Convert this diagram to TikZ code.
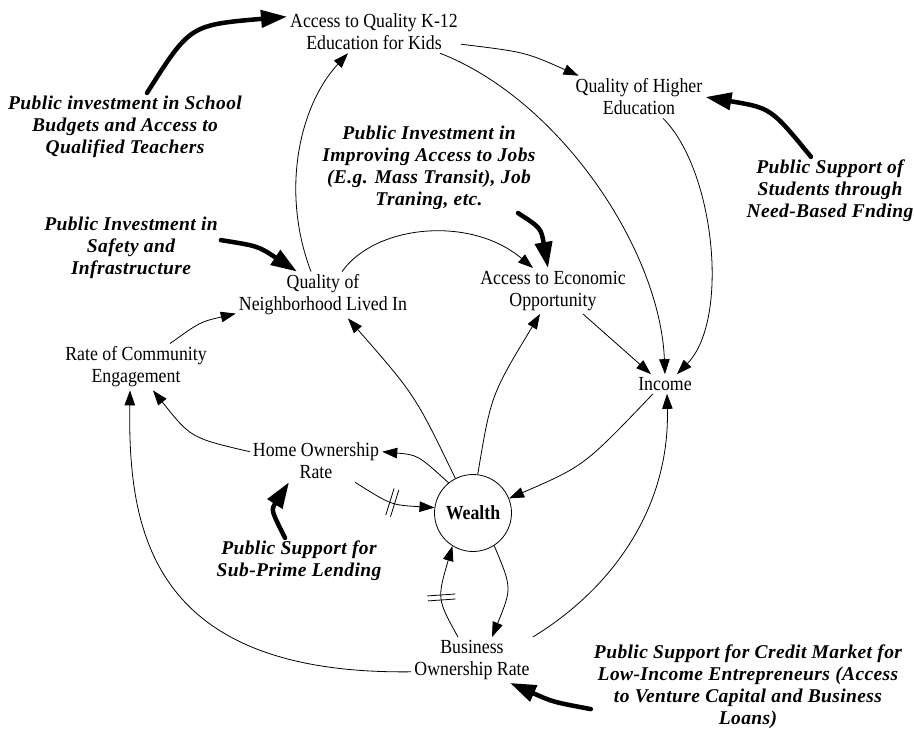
\documentclass[tikz,border=0pt]{standalone}
\usepackage{fontspec}
\setmainfont{Liberation Serif}
\newfontfamily\varfont[FakeStretch=0.89]{Liberation Serif}
\usetikzlibrary{arrows.meta,decorations.markings}

\tikzset{
  var/.style={align=center, inner sep=3pt, font=\varfont\fontsize{20}{22}\selectfont},
  policy/.style={align=center, inner sep=3pt,
    font=\fontsize{19.5}{22}\selectfont\bfseries\itshape\addfontfeature{LetterSpace=2}},
  stock/.style={circle, draw, line width=0.8pt, minimum size=77pt, inner sep=0pt,
    font=\varfont\fontsize{20}{22}\selectfont\bfseries},
  link/.style={line width=0.8pt, -{Triangle[length=15pt,width=10.5pt]}},
  push/.style={line width=4.5pt, line cap=round, -{Triangle[length=26pt,width=17pt]}},
  delay/.style={postaction={decorate}, decoration={markings,
    mark=at position #1 with {\draw[-,line width=0.8pt]
      (-2.5pt,-14pt) -- (-2.5pt,14pt) (2.5pt,-14pt) -- (2.5pt,14pt);}}},
}

\begin{document}
\begin{tikzpicture}[x=1pt,y=-1pt]
\useasboundingbox (0,0) rectangle (914,730);

% variables of the causal loop diagram
\node[var] (k12) at (374,32) {Access to Quality K-12\\Education for Kids};
\node[var] (qhe) at (639,97) {Quality of Higher\\Education};
\node[var] (aeo) at (553,291) {Access to Economic\\Opportunity};
\node[var] (qnl) at (323,295) {Quality of\\Neighborhood Lived In};
\node[var] (rce) at (136,367) {Rate of Community\\Engagement};
\node[var] (inc) at (665,384) {Income};
\node[var] (hor) at (316,461) {Home Ownership\\Rate};
\node[var] (bor) at (472,660) {Business\\Ownership Rate};
\node[stock] (w) at (473,513) {Wealth};

% policy levers
\node[policy] (psb) at (125,127) {Public investment in School\\Budgets and Access to\\Qualified Teachers};
\node[policy] (psi) at (131,248) {Public Investment in\\Safety and\\Infrastructure};
\node[policy] (pij) at (429,168) {Public Investment in\\Improving Access to Jobs\\(E.g. Mass Transit), Job\\Traning, etc.};
\node[policy] (pss) at (830,191) {Public Support of\\Students through\\Need-Based Fnding};
\node[policy] (psp) at (299,561) {Public Support for\\Sub-Prime Lending};
\node[policy] (psc) at (748,687) {Public Support for Credit Market for\\Low-Income Entrepreneurs (Access\\to Venture Capital and Business\\Loans)};

% causal links
\draw[link] (k12.-8) .. controls (525,52) .. ([xshift=6pt]qhe.north west);
\draw[link] ([xshift=66pt]k12.south) .. controls (560,100) and (660,250) .. (inc.north);
\draw[link] ([xshift=24pt]qhe.south) .. controls (715,170) and (730,320) .. ([xshift=12pt]inc.north);
\draw[link] ([xshift=-12pt]qnl.north) .. controls (280,190) and (300,105) .. ([xshift=-26pt]k12.south);
\draw[link] ([xshift=19pt]qnl.north) .. controls (375,225) and (470,215) .. ([xshift=-20pt]aeo.north);
\draw[link] ([xshift=34pt]rce.north) .. controls (200,322) .. (qnl.192);
\draw[link] (w.117) .. controls (415,395) .. ([xshift=25pt]qnl.south);
\draw[link] (w.83) .. controls (491,395) .. ([xshift=-13pt]aeo.south);
\draw[link] ([xshift=30pt]aeo.south) -- ([xshift=-14pt]inc.north);
\draw[link] ([xshift=-12pt]inc.south) .. controls (584,466) .. (w.22);
\draw[link] (bor.north east) .. controls (610,590) and (670,510) .. ([xshift=2pt]inc.south);
\draw[link] (w.129) .. controls (418,455) .. (hor.8);
\draw[link,delay=0.5] ([xshift=39pt]hor.south) .. controls (391,505) .. (w.172);
\draw[link] (hor.172) .. controls (191,438) .. ([xshift=17pt]rce.south);
\draw[link] (bor.191) .. controls (150,675) and (128,530) .. ([xshift=-6pt]rce.south);
\draw[link,delay=0.45] ([xshift=-14pt]bor.north) .. controls (437,599) .. (w.238);
\draw[link] (w.-57) .. controls (512,588) .. ([xshift=20pt]bor.north);

% policy interventions
\draw[push] ([xshift=22pt]psb.north) .. controls (190,25) .. (k12.170);
\draw[push] ([xshift=-19pt]pss.north) .. controls (771,108) .. (qhe.east);
\draw[push] ([xshift=89pt]pij.south) .. controls (541,228) .. ([xshift=-5pt]aeo.north);
\draw[push] (psi.5) .. controls (258,246) .. ([xshift=-26pt]qnl.north);
\draw[push] ([xshift=-14pt]psp.north) .. controls (271,510) .. ([xshift=-27pt]hor.south);
\draw[push] (psc.188) .. controls (553,702) .. ([xshift=38pt]bor.south);
\end{tikzpicture}
\end{document}
